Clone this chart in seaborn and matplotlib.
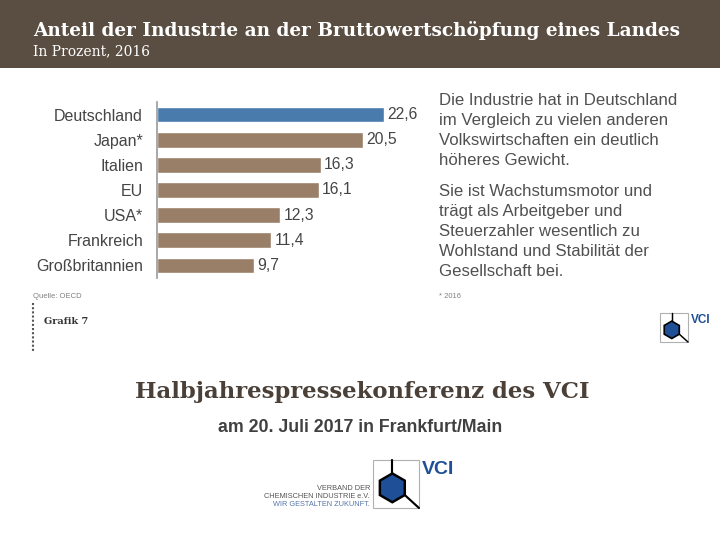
import matplotlib
matplotlib.use("Agg")
import matplotlib.pyplot as plt
import matplotlib.patches as mpatches
import seaborn as sns
import numpy as np

# Chart data
countries = ["Deutschland", "Japan*", "Italien", "EU", "USA*", "Frankreich", "Großbritannien"]
shares = [22.6, 20.5, 16.3, 16.1, 12.3, 11.4, 9.7]
bar_colors = ["#4a7bad", "#9a7f68", "#9a7f68", "#9a7f68", "#9a7f68", "#9a7f68", "#9a7f68"]

header_bg = "#5a4e43"
text_dark = "#454545"

sns.set_style("white")
plt.rcParams["font.family"] = ["Liberation Sans", "DejaVu Sans"]

fig = plt.figure(figsize=(7.2, 5.4), dpi=100)
fig.patch.set_facecolor("white")

# Header band
fig.patches.append(mpatches.Rectangle((0, 1 - 68 / 540), 1, 68 / 540, transform=fig.transFigure,
                                      facecolor=header_bg, edgecolor="none", zorder=0))
fig.text(33 / 720, 1 - 31 / 540, "Anteil der Industrie an der Bruttowertschöpfung eines Landes",
         color="white", fontsize=13.3, fontweight="bold", family="DejaVu Serif", va="center")
fig.text(33 / 720, 1 - 51 / 540, "In Prozent, 2016", color="white", fontsize=10,
         family="DejaVu Serif", va="center")

# Bar chart
ax = fig.add_axes([157 / 720, 1 - 278 / 540, 270 / 720, 176 / 540])
sns.barplot(x=shares, y=countries, hue=countries, palette=bar_colors, legend=False,
            orient="h", width=0.62, ax=ax, saturation=1)
ax.set_xlim(0, 26.9)
ax.set_xticks([])
ax.set_xlabel("")
ax.set_ylabel("")
for side in ["top", "right", "bottom"]:
    ax.spines[side].set_visible(False)
ax.spines["left"].set_color("#9a9a9a")
ax.spines["left"].set_linewidth(1.2)
ax.tick_params(axis="y", length=0, pad=10, labelsize=11.5, labelcolor=text_dark)
for i, v in enumerate(shares):
    ax.text(v + 0.3, i, f"{v:.1f}".replace(".", ","), va="center", ha="left",
            fontsize=11.3, color=text_dark)

# Side commentary
fig.text(439 / 720, 1 - 93 / 540,
         "Die Industrie hat in Deutschland\nim Vergleich zu vielen anderen\n"
         "Volkswirtschaften ein deutlich\nhöheres Gewicht.",
         fontsize=12.1, color="#505050", va="top", linespacing=1.42)
fig.text(439 / 720, 1 - 184 / 540,
         "Sie ist Wachstumsmotor und\nträgt als Arbeitgeber und\n"
         "Steuerzahler wesentlich zu\nWohlstand und Stabilität der\nGesellschaft bei.",
         fontsize=12.1, color="#505050", va="top", linespacing=1.42)

# Footnotes
fig.text(33 / 720, 1 - 296 / 540, "Quelle: OECD", fontsize=5.5, color="#808080", va="center")
fig.text(439 / 720, 1 - 296 / 540, "* 2016", fontsize=5.5, color="#808080", va="center")
fig.text(44 / 720, 1 - 321 / 540, "Grafik 7", fontsize=7, fontweight="bold",
         family="DejaVu Serif", color="#333333", va="center")
fig.lines.append(plt.Line2D([33 / 720, 33 / 720], [1 - 303 / 540, 1 - 352 / 540],
                            transform=fig.transFigure, color="#555555", lw=1.5,
                            linestyle=(0, (1, 1))))


def vci_logo(x0, y0, w, h, scale, fs):
    # box with hexagon, drawn in pixel coordinates of the figure
    tr = fig.transFigure
    fig.patches.append(mpatches.Rectangle((x0 / 720, 1 - (y0 + h) / 540), w / 720, h / 540,
                                          transform=tr, facecolor="white",
                                          edgecolor="#b0b0b0", lw=0.8))
    cx, cy, r = x0 + w * 0.42, y0 + h * 0.58, h * 0.3
    ang = np.deg2rad(np.arange(90, 450, 60))
    pts = [((cx + r * np.cos(a)) / 720, 1 - (cy - r * np.sin(a)) / 540) for a in ang]
    fig.patches.append(mpatches.Polygon(pts, closed=True, transform=tr, facecolor="#1f4f96",
                                        edgecolor="black", lw=1.6 * scale))
    fig.lines.append(plt.Line2D([cx / 720, cx / 720], [1 - y0 / 540, 1 - (cy - r) / 540],
                                transform=tr, color="black", lw=1.4 * scale))
    bx, by = cx + r * np.cos(np.deg2rad(-30)), cy + r * 0.5
    fig.lines.append(plt.Line2D([bx / 720, (x0 + w) / 720], [1 - by / 540, 1 - (y0 + h) / 540],
                                transform=tr, color="black", lw=1.4 * scale))
    fig.text((x0 + w + 3) / 720, 1 - (y0 + 1) / 540, "VCI", color="#1f4f96",
             fontsize=fs, fontweight="bold", va="top", ha="left")


vci_logo(660, 313, 28, 29, 0.75, 8.5)

# Event title
fig.text(362 / 720, 1 - 392 / 540, "Halbjahrespressekonferenz des VCI", ha="center",
         va="center", fontsize=16.4, fontweight="bold", family="DejaVu Serif", color="#4a4038")
fig.text(360 / 720, 1 - 428 / 540, "am 20. Juli 2017 in Frankfurt/Main", ha="center",
         va="center", fontsize=12.8, fontweight="bold", color="#404040")

vci_logo(373, 460, 46, 48, 1.1, 14)
fig.text(370 / 720, 1 - 488 / 540, "VERBAND DER", fontsize=5.3, color="#555555", ha="right", va="center")
fig.text(370 / 720, 1 - 497 / 540, "CHEMISCHEN INDUSTRIE e.V.", fontsize=5.3, color="#555555",
         ha="right", va="center")
fig.text(370 / 720, 1 - 505 / 540, "WIR GESTALTEN ZUKUNFT.", fontsize=5.3, color="#5577aa",
         ha="right", va="center")

fig.savefig("out.png", dpi=100)
